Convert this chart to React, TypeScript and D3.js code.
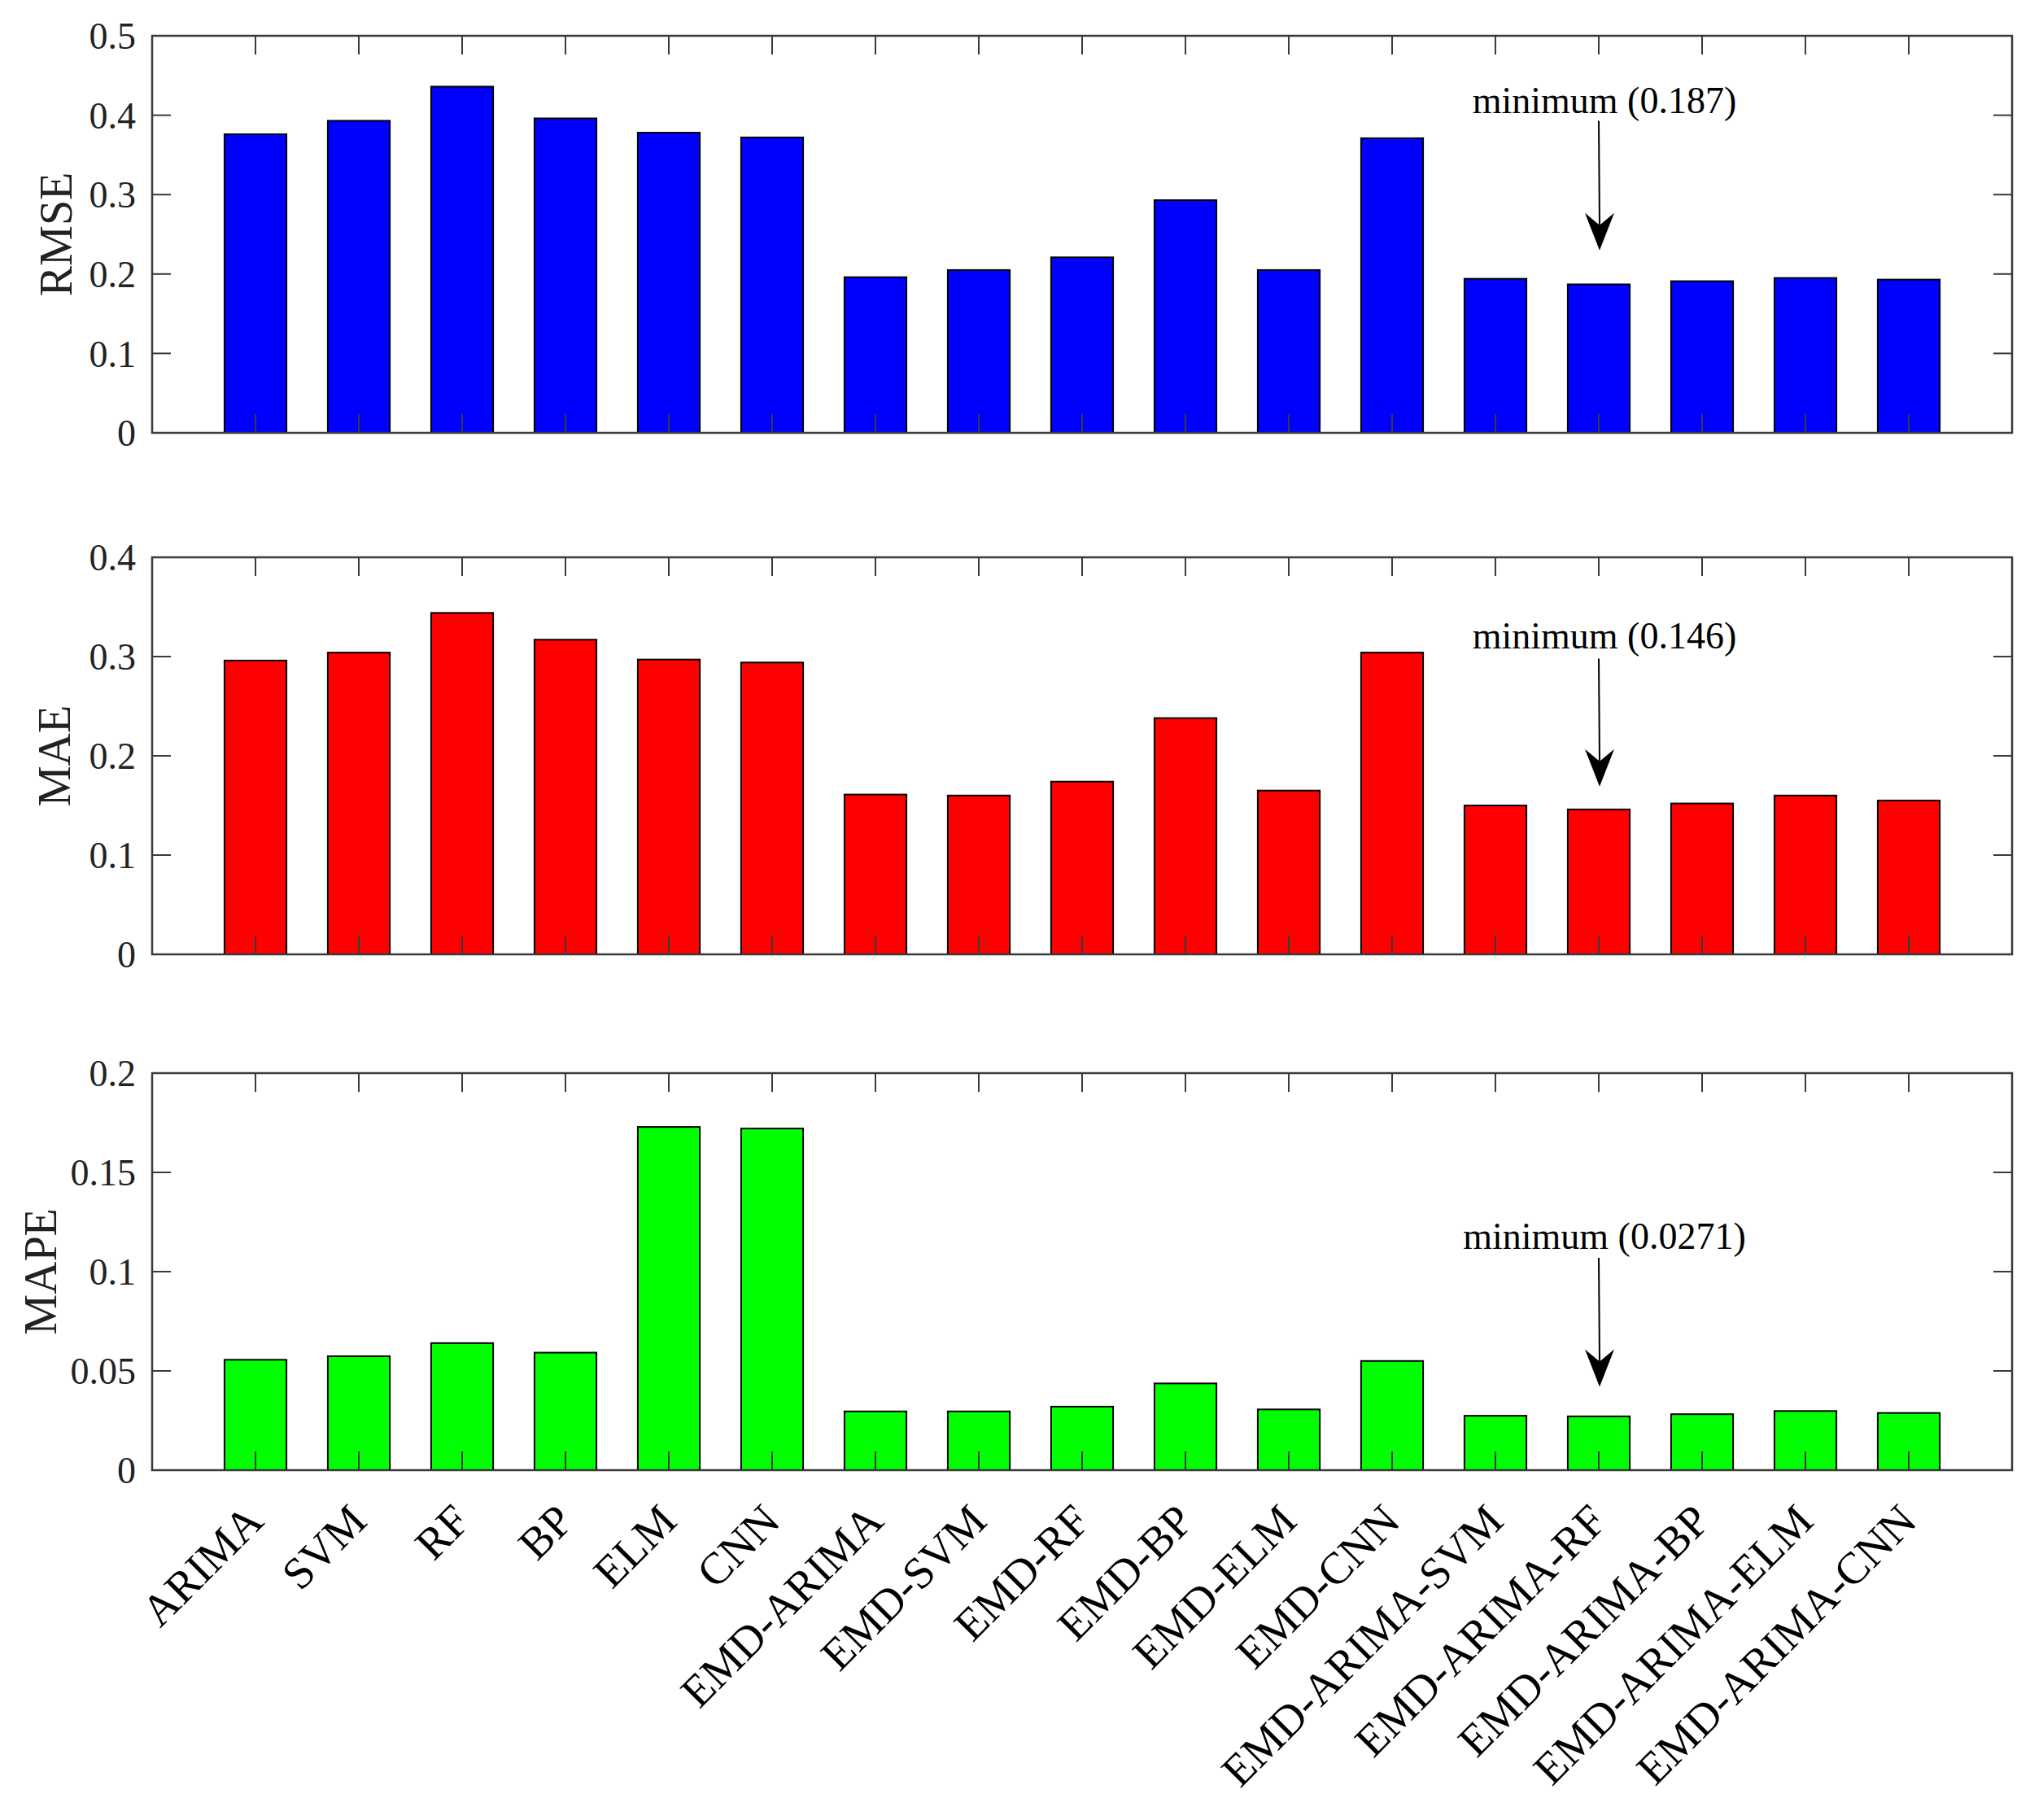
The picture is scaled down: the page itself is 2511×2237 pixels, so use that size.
import { useEffect, useRef } from "react";
import * as d3 from "d3";

const categories = [
  "ARIMA", "SVM", "RF", "BP", "ELM", "CNN",
  "EMD-ARIMA", "EMD-SVM", "EMD-RF", "EMD-BP", "EMD-ELM", "EMD-CNN",
  "EMD-ARIMA-SVM", "EMD-ARIMA-RF", "EMD-ARIMA-BP", "EMD-ARIMA-ELM", "EMD-ARIMA-CNN",
];
const rmse = [0.376, 0.393, 0.436, 0.396, 0.378, 0.372, 0.196, 0.205, 0.221, 0.293, 0.205, 0.371, 0.194, 0.187, 0.191, 0.195, 0.193];
const mae = [0.296, 0.304, 0.344, 0.317, 0.297, 0.294, 0.161, 0.160, 0.174, 0.238, 0.165, 0.304, 0.150, 0.146, 0.152, 0.160, 0.155];
const mape = [0.0556, 0.0574, 0.064, 0.0592, 0.1729, 0.1721, 0.0296, 0.0296, 0.032, 0.0437, 0.0306, 0.055, 0.0274, 0.0271, 0.0282, 0.0298, 0.0288];

const metricNames = ["RMSE", "MAE", "MAPE"];
const yMaxes = [0.5, 0.4, 0.2];
const yTicks = [
  [0, 0.1, 0.2, 0.3, 0.4, 0.5],
  [0, 0.1, 0.2, 0.3, 0.4],
  [0, 0.05, 0.1, 0.15, 0.2],
];
const barColors = ["#0000ff", "#ff0000", "#00ff00"];

// annotation: label, index of the marked bar, text y, arrow start y, arrow tip y (data units)
const minLabels = ["minimum (0.187)", "minimum (0.146)", "minimum (0.0271)"];
const minIndex = [13, 13, 13];
const minTextY = [0.403, 0.308, 0.1113];
const minArrowFrom = [0.393, 0.298, 0.107];
const minArrowTo = [0.2297, 0.169, 0.042];

const W = 2511;
const H = 2237;
const left = 187;
const right = 2473;
const panelTops = [44, 685, 1319];
const panelH = 488;
const labelX = [88, 86, 69];
const font = "'Liberation Serif', 'Times New Roman', Times, serif";
const axisColor = "#3a3a3a";
const tickLen = 23;

const fmt = (d: number) => String(+d.toFixed(3));

const buildGraph = (ref: SVGSVGElement) => {
  const svg = d3.select(ref);
  svg.selectAll("*").remove();

  const x = d3.scaleLinear().domain([0, categories.length + 1]).range([left, right]);
  const series = [rmse, mae, mape];

  series.forEach((values, k) => {
    const top = panelTops[k];
    const bottom = top + panelH;
    const y = d3.scaleLinear().domain([0, yMaxes[k]]).range([bottom, top]);
    const g = svg.append("g");

    // bars
    g.selectAll("rect.bar")
      .data(values)
      .enter()
      .append("rect")
      .attr("class", "bar")
      .attr("x", (d, i) => x(i + 1 - 0.3))
      .attr("width", x(0.6) - x(0))
      .attr("y", (d) => y(d))
      .attr("height", (d) => y(0) - y(d))
      .attr("fill", barColors[k])
      .attr("stroke", "#000")
      .attr("stroke-width", 2);

    // x ticks (top & bottom, inward)
    categories.forEach((c, i) => {
      const tx = x(i + 1);
      g.append("line").attr("x1", tx).attr("x2", tx).attr("y1", top).attr("y2", top + tickLen)
        .attr("stroke", axisColor).attr("stroke-width", 2);
      g.append("line").attr("x1", tx).attr("x2", tx).attr("y1", bottom).attr("y2", bottom - tickLen)
        .attr("stroke", axisColor).attr("stroke-width", 2);
    });

    // y ticks (left & right, inward) + labels
    yTicks[k].forEach((t) => {
      const ty = y(t);
      g.append("line").attr("x1", left).attr("x2", left + tickLen).attr("y1", ty).attr("y2", ty)
        .attr("stroke", axisColor).attr("stroke-width", 2);
      g.append("line").attr("x1", right).attr("x2", right - tickLen).attr("y1", ty).attr("y2", ty)
        .attr("stroke", axisColor).attr("stroke-width", 2);
      g.append("text")
        .attr("x", left - 20)
        .attr("y", ty)
        .attr("dy", "0.35em")
        .attr("text-anchor", "end")
        .style("font-family", font)
        .style("font-size", "46px")
        .attr("fill", "#222")
        .text(fmt(t));
    });

    // box
    g.append("rect")
      .attr("x", left)
      .attr("y", top)
      .attr("width", right - left)
      .attr("height", panelH)
      .attr("fill", "none")
      .attr("stroke", axisColor)
      .attr("stroke-width", 2.5);

    // y label
    g.append("text")
      .attr("transform", `translate(${labelX[k]} ${(top + bottom) / 2}) rotate(-90)`)
      .attr("text-anchor", "middle")
      .style("font-family", font)
      .style("font-size", "56px")
      .attr("fill", "#222")
      .text(metricNames[k]);

    // minimum annotation
    const ax = x(minIndex[k] + 1);
    g.append("text")
      .attr("x", ax + 7)
      .attr("y", y(minTextY[k]))
      .attr("text-anchor", "middle")
      .style("font-family", font)
      .style("font-size", "46px")
      .attr("fill", "#000")
      .text(minLabels[k]);
    const tipY = y(minArrowTo[k]);
    const headLen = 46;
    const notch = 31;
    g.append("line")
      .attr("x1", ax)
      .attr("x2", ax + 1)
      .attr("y1", y(minArrowFrom[k]))
      .attr("y2", tipY - notch)
      .attr("stroke", "#000")
      .attr("stroke-width", 2);
    const hx = ax + 1;
    g.append("path")
      .attr("d", `M${hx},${tipY} L${hx - 18},${tipY - headLen} L${hx},${tipY - notch} L${hx + 18},${tipY - headLen} Z`)
      .attr("fill", "#000");

    // x tick labels on bottom panel only
    if (k === series.length - 1) {
      categories.forEach((c, i) => {
        g.append("text")
          .attr("transform", `translate(${x(i + 1)} ${bottom + 53}) rotate(-45)`)
          .attr("text-anchor", "end")
          .attr("dy", "0.32em")
          .style("font-family", font)
          .style("font-size", "55px")
          .attr("fill", "#000")
          .text(c);
      });
    }
  });
};

export default function App() {
  const ref = useRef<SVGSVGElement>(null);
  useEffect(() => {
    document.body.style.margin = "0";
    if (ref.current) buildGraph(ref.current);
  }, []);
  return (
    <div style={{ background: "#fff" }}>
      <svg ref={ref} width={W} height={H} style={{ display: "block", background: "#fff" }} />
    </div>
  );
}
